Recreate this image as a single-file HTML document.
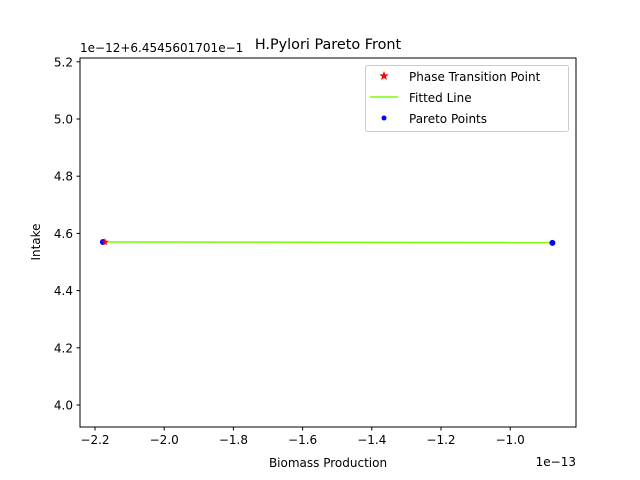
<!DOCTYPE html>
<html><head><meta charset="utf-8"><style>
body{margin:0;background:#fff}
svg{display:block;font-family:"DejaVu Sans","Liberation Sans",sans-serif}
</style></head><body>
<svg id="c" width="640" height="480" viewBox="0 0 640 480">
<rect width="640" height="480" fill="#fff"/>
<g id="plot"></g>
</svg>
<script>
const paretoX = [-2.177, -0.878];
const paretoY = [4.570, 4.567];
const fitX = [-2.171, -0.878];
const fitY = [4.570, 4.568];
const phaseX = [-2.171];
const phaseY = [4.570];
const xTicks = [-2.2, -2.0, -1.8, -1.6, -1.4, -1.2, -1.0];
const xTickLabels = ["\u22122.2","\u22122.0","\u22121.8","\u22121.6","\u22121.4","\u22121.2","\u22121.0"];
const yTicks = [4.0, 4.2, 4.4, 4.6, 4.8, 5.0, 5.2];
const yTickLabels = ["4.0","4.2","4.4","4.6","4.8","5.0","5.2"];

const L=80,R=576,T=58,B=427;
function sx(v){return 95+(v+2.2)/0.2*69.2;}
function sy(v){return 405-(v-4.0)/0.2*57.2;}
const NS="http://www.w3.org/2000/svg";
const g=document.getElementById('plot');
function mk(t,a,txt){const e=document.createElementNS(NS,t);for(const k in a)e.setAttribute(k,a[k]);if(txt!==undefined)e.textContent=txt;g.appendChild(e);return e;}

// fitted line
let d=fitX.map((x,i)=>(i?'L':'M')+sx(x)+','+sy(fitY[i])).join(' ');
let e=mk('path',{d:d,stroke:'#7cfc00',"stroke-width":1.5,fill:'none'});


// pareto points
paretoX.forEach((x,i)=>{
  const c=mk('circle',{cx:sx(x),cy:sy(paretoY[i]),r:3,fill:'#0000ff'});
  
  
});
// phase transition star
function star(cx,cy,r){let p=[];for(let k=0;k<10;k++){const a=-Math.PI/2+k*Math.PI/5;const rr=k%2?r*0.4:r;p.push((cx+rr*Math.cos(a)).toFixed(2)+','+(cy+rr*Math.sin(a)).toFixed(2));}return p.join(' ');}
phaseX.forEach((x,i)=>{
  const s=mk('polygon',{points:star(sx(x),sy(phaseY[i]),4),fill:'#ff0000'});
  
  
});
// axes frame
e=mk('rect',{x:L,y:T,width:R-L,height:B-T,fill:'none',stroke:'#000',"stroke-width":1});


xTicks.forEach((v,i)=>{
  const x=sx(v);
  const t=mk('line',{x1:x,x2:x,y1:B,y2:B+3.5,stroke:'#000'});
  
  
  const l=mk('text',{x:x,y:B+17,"font-size":12,"text-anchor":"middle"},xTickLabels[i]);
  
  
});
yTicks.forEach((v,i)=>{
  const y=sy(v);
  const t=mk('line',{x1:L-3.5,x2:L,y1:y,y2:y,stroke:'#000'});
  
  
  const l=mk('text',{x:L-7,y:y+4.5,"font-size":12,"text-anchor":"end"},yTickLabels[i]);
  
  
});
</script>
<svg style="position:absolute;left:0;top:0" width="640" height="480">
<text x="328" y="49" font-size="14.4" text-anchor="middle" font-family="DejaVu Sans,sans-serif">H.Pylori Pareto Front</text>
<text x="80" y="52" font-size="12" font-family="DejaVu Sans,sans-serif">1e−12+6.4545601701e−1</text>
<text x="576" y="466" font-size="12" text-anchor="end" font-family="DejaVu Sans,sans-serif">1e−13</text>
<text x="328" y="467" font-size="12" text-anchor="middle" font-family="DejaVu Sans,sans-serif">Biomass Production</text>
<text transform="translate(40,242) rotate(-90)" font-size="12" text-anchor="middle" font-family="DejaVu Sans,sans-serif">Intake</text>
<g>
<rect x="365.5" y="65.5" width="203" height="66" rx="2" fill="#fff" fill-opacity="0.8" stroke="#ccc"/>
<polygon points="384,71 385.2,74.4 388.8,74.5 385.9,76.6 386.9,80 384,78 381.1,80 382.1,76.6 379.2,74.5 382.8,74.4" fill="#ff0000"/>
<text x="409" y="81" font-size="12" font-family="DejaVu Sans,sans-serif">Phase Transition Point</text>
<line x1="370" x2="398" y1="97" y2="97" stroke="#7cfc00" stroke-width="1.5"/>
<text x="409" y="102" font-size="12" font-family="DejaVu Sans,sans-serif">Fitted Line</text>
<circle cx="384" cy="118" r="2.5" fill="#0000ff"/>
<text x="409" y="123" font-size="12" font-family="DejaVu Sans,sans-serif">Pareto Points</text>
</g>
</svg>
</body></html>
